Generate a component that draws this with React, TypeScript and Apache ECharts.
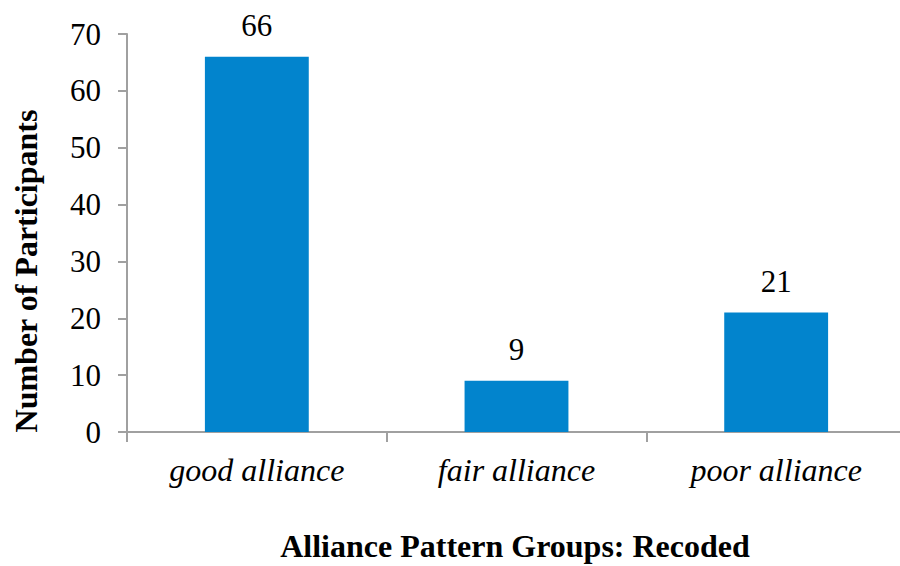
import React, { useEffect, useRef } from "react";
import * as echarts from "echarts";

const categories = ["good alliance", "fair alliance", "poor alliance"];
const participants = [66, 9, 21];
const yTicks = { min: 0, max: 70, interval: 10 };
const xTitle = "Alliance Pattern Groups: Recoded";
const yTitle = "Number of Participants";

const FONT = "Liberation Serif";

export default function App() {
  const ref = useRef<HTMLDivElement>(null);
  useEffect(() => {
    document.body.style.margin = "0";
    const chart = echarts.init(ref.current!, null, { renderer: "svg" });
    chart.setOption({
      animation: false,
      backgroundColor: "#ffffff",
      textStyle: { fontFamily: FONT },
      grid: { left: 127, right: 0, top: 34, bottom: 134, containLabel: false },
      xAxis: {
        type: "category",
        data: categories,
        axisLine: { show: true, lineStyle: { color: "#a0a0a0", width: 2 } },
        axisTick: { show: true, alignWithLabel: false, length: 10, lineStyle: { color: "#a0a0a0", width: 2 } },
        axisLabel: {
          fontFamily: FONT,
          fontStyle: "italic",
          fontSize: 32,
          color: "#000",
          margin: 22,
        },
      },
      yAxis: {
        type: "value",
        min: yTicks.min,
        max: yTicks.max,
        interval: yTicks.interval,
        splitLine: { show: false },
        axisLine: { show: true, lineStyle: { color: "#a0a0a0", width: 2 } },
        axisTick: { show: true, length: 9, lineStyle: { color: "#a0a0a0", width: 2 } },
        axisLabel: { fontFamily: FONT, fontSize: 31, color: "#000", margin: 26 },
      },
      graphic: [
        {
          type: "text",
          x: 515,
          y: 546,
          style: {
            text: xTitle,
            font: `bold 32px "${FONT}"`,
            fill: "#000",
            align: "center",
            verticalAlign: "middle",
          },
        },
        {
          type: "text",
          x: 26,
          y: 271,
          rotation: Math.PI / 2,
          style: {
            text: yTitle,
            font: `bold 32px "${FONT}"`,
            fill: "#000",
            align: "center",
            verticalAlign: "middle",
          },
        },
      ],
      series: [
        {
          type: "bar",
          data: participants,
          barWidth: "40%",
          itemStyle: { color: "#0284cd" },
          label: {
            show: true,
            position: "top",
            distance: 16,
            fontFamily: FONT,
            fontSize: 31,
            color: "#000",
          },
        },
      ],
    });
    return () => chart.dispose();
  }, []);
  return (
    <div style={{ width: 900, height: 566, overflow: "hidden", position: "relative" }}>
      <div ref={ref} style={{ width: 906, height: 566 }} />
    </div>
  );
}
